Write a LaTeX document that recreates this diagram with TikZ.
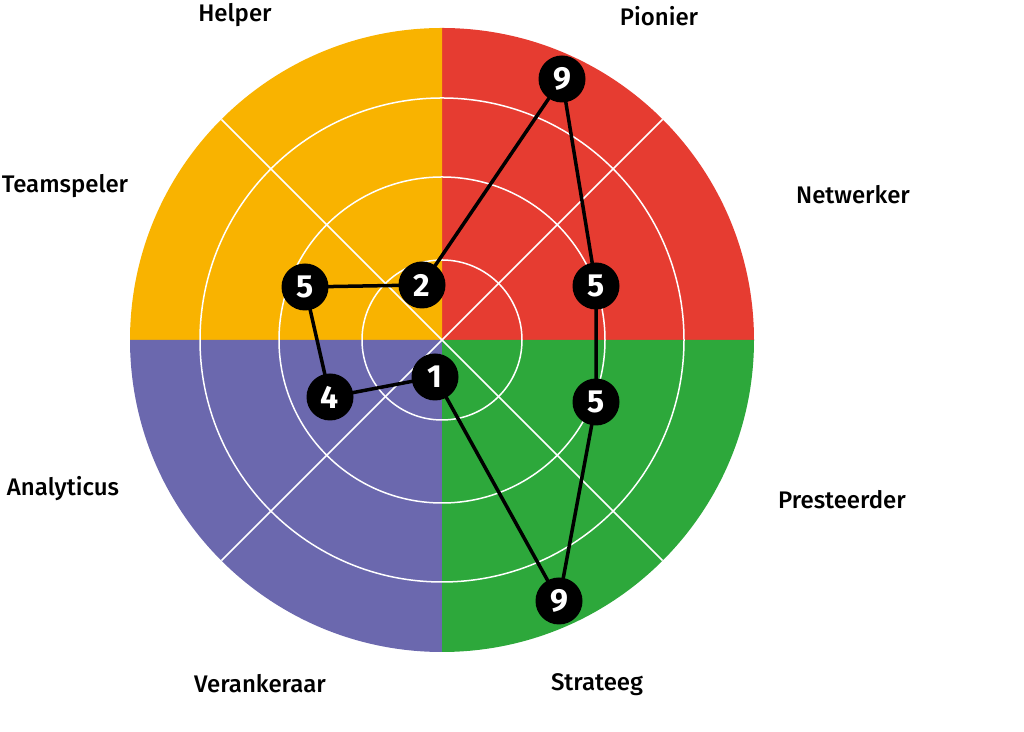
\documentclass[tikz,border=0pt]{standalone}
\usepackage{fontspec}
\setmainfont{Fira Sans}[UprightFont={* Medium},BoldFont={* Bold}]
\usepackage{tikz}
\usepackage{xcolor}

\definecolor{helperyellow}{HTML}{F9B300}
\definecolor{pionierred}{HTML}{E63C31}
\definecolor{strateeggreen}{HTML}{2DA83B}
\definecolor{analyticpurple}{HTML}{6B68AE}

\pgfdeclarelayer{wheel}
\pgfdeclarelayer{lines}
\pgfsetlayers{wheel,lines,main}

\tikzset{
    score/.style={circle, fill=black, text=white, inner sep=0pt, minimum size=23.5pt, font=\bfseries\fontsize{16}{17}\selectfont},
    rolelabel/.style={font=\fontsize{12}{13}\selectfont, inner sep=0pt},
    ring/.style={white, line width=0.75pt},
    scoreline/.style={black, line width=1.75pt}
}

\begin{document}
\begin{tikzpicture}[x=0.5pt, y=0.5pt]
    \useasboundingbox (0,0) rectangle (1024,732);
    \coordinate (c) at (442,392);

    \begin{pgfonlayer}{wheel}
    % Quadrants
    \fill[pionierred] (c) -- +(0:312) arc[start angle=0, end angle=90, radius=312] -- cycle;
    \fill[helperyellow] (c) -- +(90:312) arc[start angle=90, end angle=180, radius=312] -- cycle;
    \fill[analyticpurple] (c) -- +(180:312) arc[start angle=180, end angle=270, radius=312] -- cycle;
    \fill[strateeggreen] (c) -- +(270:312) arc[start angle=270, end angle=360, radius=312] -- cycle;

    % Rings
    \draw[ring] (c) circle[radius=80];
    \draw[ring] (c) circle[radius=163];
    \draw[ring] (c) circle[radius=242];

    % Diagonals
    \draw[ring] (c) +(45:312) -- +(225:312);
    \draw[ring] (c) +(135:312) -- +(315:312);
    \end{pgfonlayer}

    % Role labels
    \node[rolelabel] (helper) at (235,717) {Helper};
    \node[rolelabel] (pionier) at (659,716) {Pionier};
    \node[rolelabel] (netwerker) at (853,537) {Netwerker};
    \node[rolelabel] (presteerder) at (842,232) {Presteerder};
    \node[rolelabel] (strateeg) at (597,47) {Strateeg};
    \node[rolelabel] (verankeraar) at (260,48) {Verankeraar};
    \node[rolelabel] (analyticus) at (63,243) {Analyticus};
    \node[rolelabel] (teamspeler) at (65,546) {Teamspeler};

    % Scores
    \node[score] (p9) at (562,653) {9};
    \node[score] (n5) at (596,446) {5};
    \node[score] (pr5) at (596,330) {5};
    \node[score] (s9) at (559,131) {9};
    \node[score] (v1) at (435,355) {1};
    \node[score] (a4) at (330,335) {4};
    \node[score] (t5) at (305,445) {5};
    \node[score] (h2) at (422,447) {2};

    % Score lines
    \begin{pgfonlayer}{lines}
    \draw[scoreline] (p9.center) -- (n5.center) -- (pr5.center) -- (s9.center) -- (v1.center)
        -- (a4.center) -- (t5.center) -- (h2.center) -- cycle;
    \end{pgfonlayer}
\end{tikzpicture}
\end{document}
